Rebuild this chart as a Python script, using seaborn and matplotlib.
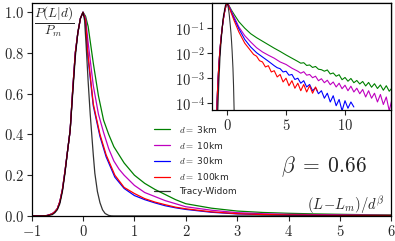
import numpy as np
import seaborn as sns
import matplotlib
matplotlib.use("Agg")
import matplotlib.pyplot as plt
from matplotlib.ticker import FuncFormatter, NullLocator

# ---- main panel data (linear scale) ----
left_x = [-1.0, -0.8, -0.7, -0.6, -0.55, -0.5, -0.45, -0.4, -0.35, -0.3, -0.25, -0.2, -0.15, -0.1, -0.05, 0.0]
left_y = [0.0, 0.0, 0.002, 0.01, 0.02, 0.035, 0.07, 0.13, 0.22, 0.32, 0.42, 0.62, 0.8, 0.9, 0.97, 1.0]

green_x = [0.05, 0.1, 0.15, 0.2, 0.3, 0.4, 0.5, 0.6, 0.7, 0.8, 1.0, 1.2, 1.4, 1.6, 1.8, 2.0, 2.5, 3.0, 3.5, 4.0, 4.5, 5.0, 5.5, 6.0]
green_y = [0.98, 0.93, 0.84, 0.75, 0.59, 0.47, 0.40, 0.34, 0.30, 0.26, 0.20, 0.16, 0.13, 0.105, 0.08, 0.06, 0.038, 0.024, 0.017, 0.013, 0.010, 0.008, 0.006, 0.005]

magenta_x = [0.05, 0.1, 0.2, 0.3, 0.4, 0.5, 0.6, 0.7, 0.8, 1.0, 1.2, 1.4, 1.6, 1.8, 2.0, 2.5, 3.0, 3.5, 4.0, 5.0, 6.0]
magenta_y = [0.97, 0.85, 0.64, 0.50, 0.41, 0.33, 0.27, 0.23, 0.20, 0.15, 0.115, 0.095, 0.075, 0.06, 0.045, 0.028, 0.016, 0.011, 0.008, 0.005, 0.003]

blue_x = [0.05, 0.1, 0.2, 0.33, 0.45, 0.62, 0.8, 1.0, 1.2, 1.4, 1.6, 1.8, 2.0, 2.5, 3.0, 3.5, 4.0, 5.0, 6.0]
blue_y = [0.96, 0.77, 0.54, 0.39, 0.29, 0.19, 0.135, 0.10, 0.08, 0.064, 0.05, 0.04, 0.032, 0.018, 0.010, 0.0065, 0.0045, 0.0025, 0.0015]

red_x = [0.05, 0.085, 0.2, 0.33, 0.45, 0.62, 0.8, 1.0, 1.2, 1.4, 1.6, 1.8, 2.0, 2.5, 3.0, 3.5, 4.0, 5.0, 6.0]
red_y = [0.96, 0.82, 0.55, 0.40, 0.30, 0.20, 0.14, 0.11, 0.085, 0.068, 0.055, 0.043, 0.035, 0.02, 0.011, 0.007, 0.005, 0.003, 0.002]

tw_x = [-1.0, -0.85, -0.8, -0.7, -0.6, -0.55, -0.5, -0.45, -0.4, -0.35, -0.3, -0.25, -0.2, -0.15, -0.1, -0.05, 0.0,
        0.03, 0.06, 0.1, 0.14, 0.17, 0.2, 0.23, 0.28, 0.33, 0.38, 0.43, 0.5, 0.55, 0.6, 0.65, 1.0, 6.0]
tw_y = [1e-9, 1e-6, 3e-5, 6e-4, 6e-3, 0.015, 0.03, 0.06, 0.12, 0.21, 0.32, 0.42, 0.6, 0.78, 0.9, 0.97, 1.0,
        0.96, 0.84, 0.66, 0.5, 0.4, 0.3, 0.21, 0.12, 0.065, 0.03, 0.012, 2.5e-3, 5e-4, 5e-5, 1e-6, 1e-12, 1e-12]

# ---- inset data (log10 of P/Pm) ----
in_left_x = [-1.0, -0.9, -0.8, -0.7, -0.6, -0.5, -0.4, -0.3, -0.2, -0.1, 0.0]
in_left_lg = [-6.0, -4.6, -3.4, -2.5, -1.85, -1.35, -0.95, -0.6, -0.33, -0.12, 0.0]

in_green_x = [0.1, 0.2, 0.4, 0.6, 1.0, 1.5, 2.0, 2.5, 3.0, 3.5, 4.0, 4.5, 5.0, 5.5,
              6.0, 6.25, 6.5, 6.75, 7.0, 7.25, 7.5, 7.75, 8.0, 8.25, 8.5, 8.75, 9.0, 9.25, 9.5, 9.75,
              10.0, 10.25, 10.5, 10.75, 11.0, 11.25, 11.5, 11.75, 12.0, 12.25, 12.5, 12.75, 13.0, 13.25, 13.5, 13.75, 14.0]
in_green_lg = [-0.05, -0.13, -0.3, -0.45, -0.74, -1.0, -1.22, -1.38, -1.52, -1.66, -1.8, -1.93, -2.07, -2.2,
               -2.33, -2.40, -2.38, -2.49, -2.47, -2.57, -2.53, -2.64, -2.66, -2.72, -2.67, -2.83, -2.79, -2.92, -2.86, -3.06,
               -2.97, -3.12, -3.01, -3.18, -3.09, -3.23, -3.13, -3.31, -3.17, -3.36, -3.22, -3.41, -3.27, -3.48, -3.30, -3.52, -3.38]

in_magenta_x = [0.1, 0.2, 0.4, 0.6, 1.0, 1.5, 2.0, 2.5, 3.0, 3.5, 4.0, 4.5, 5.0, 5.5,
                6.0, 6.25, 6.5, 6.75, 7.0, 7.25, 7.5, 7.75, 8.0, 8.25, 8.5, 8.75, 9.0, 9.25, 9.5, 9.75,
                10.0, 10.25, 10.5, 10.75, 11.0, 11.25, 11.5, 11.75, 12.0, 12.25, 12.5, 12.75, 13.0, 13.25, 13.5, 13.75, 14.0]
in_magenta_lg = [-0.06, -0.15, -0.35, -0.55, -0.95, -1.3, -1.55, -1.78, -1.95, -2.08, -2.2, -2.35, -2.45, -2.6,
                 -2.72, -2.80, -2.74, -2.88, -2.85, -2.98, -2.92, -3.10, -3.02, -3.18, -3.08, -3.26, -3.15, -3.35, -3.20, -3.42,
                 -3.28, -3.50, -3.32, -3.55, -3.40, -3.62, -3.45, -3.75, -3.50, -3.80, -3.60, -3.95, -3.65, -4.05, -3.75, -4.30, -3.80]

in_blue_x = [0.1, 0.2, 0.4, 0.6, 1.0, 1.5, 2.0, 2.5, 3.0, 3.5, 4.0,
             4.25, 4.5, 4.75, 5.0, 5.25, 5.5, 5.75, 6.0, 6.25, 6.5, 6.75, 7.0, 7.25, 7.5, 7.75,
             8.0, 8.25, 8.5, 8.75, 9.0, 9.25, 9.5, 9.75, 10.0, 10.25, 10.5, 10.75]
in_blue_lg = [-0.07, -0.17, -0.4, -0.62, -1.02, -1.45, -1.75, -1.98, -2.15, -2.32, -2.5,
              -2.58, -2.62, -2.75, -2.72, -2.88, -2.85, -3.05, -3.0, -3.2, -3.1, -3.35, -3.25, -3.5, -3.38, -3.62,
              -3.5, -3.8, -3.6, -3.95, -3.7, -4.1, -3.85, -4.3, -3.9, -4.2, -3.95, -4.15]

in_red_x = [0.1, 0.2, 0.4, 0.6, 1.0, 1.5, 2.0,
            2.25, 2.5, 2.75, 3.0, 3.25, 3.5, 3.75, 4.0, 4.25, 4.5, 4.75, 5.0, 5.25, 5.5, 5.75,
            6.0, 6.25, 6.5, 6.75, 7.0, 7.25, 7.5, 7.65]
in_red_lg = [-0.08, -0.2, -0.45, -0.7, -1.15, -1.6, -1.9,
             -2.05, -2.12, -2.3, -2.35, -2.55, -2.5, -2.75, -2.7, -2.95, -2.85, -3.15, -3.0, -3.3, -3.1, -3.4,
             -3.2, -3.5, -3.25, -3.55, -3.3, -3.6, -3.35, -3.5]

labels = [r"$d=$ 3km", r"$d=$ 10km", r"$d=$ 30km", r"$d=$ 100km", "Tracy-Widom"]
colors = ["green", "m", "blue", "red", "black"]

sns.set_style("ticks")
plt.rcParams["mathtext.fontset"] = "cm"
plt.rcParams["font.family"] = ["DejaVu Sans"]

fig = plt.figure(figsize=(3.95, 2.41), dpi=100)
ax = fig.add_axes([0.080, 0.104, 0.911, 0.885])

main_curves = [(green_x, green_y), (magenta_x, magenta_y), (blue_x, blue_y), (red_x, red_y)]
for (cx, cy), c, lab in zip(main_curves, colors[:4], labels[:4]):
    sns.lineplot(x=left_x + cx, y=left_y + cy, ax=ax, color=c, lw=0.9,
                 sort=False, estimator=None, label=lab)
sns.lineplot(x=tw_x, y=tw_y, ax=ax, color="black", alpha=0.8, lw=0.9,
             sort=False, estimator=None, label=labels[4])

ax.set_xlim(-1, 6)
ax.set_ylim(0, 1.047)
ax.set_xticks(range(-1, 7))
ax.set_yticks([0, 0.2, 0.4, 0.6, 0.8, 1.0])
ax.xaxis.set_major_formatter(FuncFormatter(lambda v, p: r"$%d$" % v))
ax.yaxis.set_major_formatter(FuncFormatter(lambda v, p: r"$%.1f$" % v))
ax.tick_params(labelsize=10.5, length=3.5, width=0.8, direction="out", pad=2)
for s in ax.spines.values():
    s.set_color("black")
    s.set_linewidth(0.9)

ax.text(0.062, 0.912, r"$\dfrac{P(L|d)}{P_m}$", transform=ax.transAxes,
        ha="center", va="center", fontsize=9.5)
ax.text(0.983, 0.03, r"$(L\!-\!L_m)/d^\beta$", transform=ax.transAxes,
        ha="right", va="baseline", fontsize=10.5)
ax.text(0.812, 0.23, r"$\beta\;=\;0.66$", transform=ax.transAxes,
        ha="center", va="center", fontsize=15.5)

leg = ax.legend(loc="upper left", bbox_to_anchor=(0.33, 0.45), frameon=False,
                fontsize=6.5, handlelength=1.8, handletextpad=1.0, labelspacing=0.55,
                borderaxespad=0)

# ---- inset ----
ins = fig.add_axes([0.5375, 0.5436, 0.4524, 0.4454])
ins.set_facecolor("white")
in_curves = [(in_green_x, in_green_lg), (in_magenta_x, in_magenta_lg),
             (in_blue_x, in_blue_lg), (in_red_x, in_red_lg)]
for (cx, clg), c in zip(in_curves, colors[:4]):
    yy = 10.0 ** np.array(in_left_lg + clg)
    sns.lineplot(x=in_left_x + cx, y=yy, ax=ins, color=c, lw=0.8,
                 sort=False, estimator=None, legend=False)
sns.lineplot(x=tw_x, y=tw_y, ax=ins, color="black", alpha=0.8, lw=0.8,
             sort=False, estimator=None, legend=False)
ins.set_yscale("log")
ins.set_xlim(-1.25, 13.9)
ins.set_ylim(10 ** -4.27, 10 ** 0.02)
ins.set_xticks([0, 5, 10])
ins.set_yticks([1e-1, 1e-2, 1e-3, 1e-4])
ins.yaxis.set_minor_locator(NullLocator())
ins.xaxis.set_major_formatter(FuncFormatter(lambda v, p: r"$%d$" % v))
ins.yaxis.set_major_formatter(FuncFormatter(lambda v, p: r"$10^{%d}$" % round(np.log10(v))))
ins.tick_params(labelsize=10.5, length=3.5, width=0.8, direction="out", pad=2)
for s in ins.spines.values():
    s.set_color("black")
    s.set_linewidth(0.9)

fig.savefig("out.png", dpi=100)
